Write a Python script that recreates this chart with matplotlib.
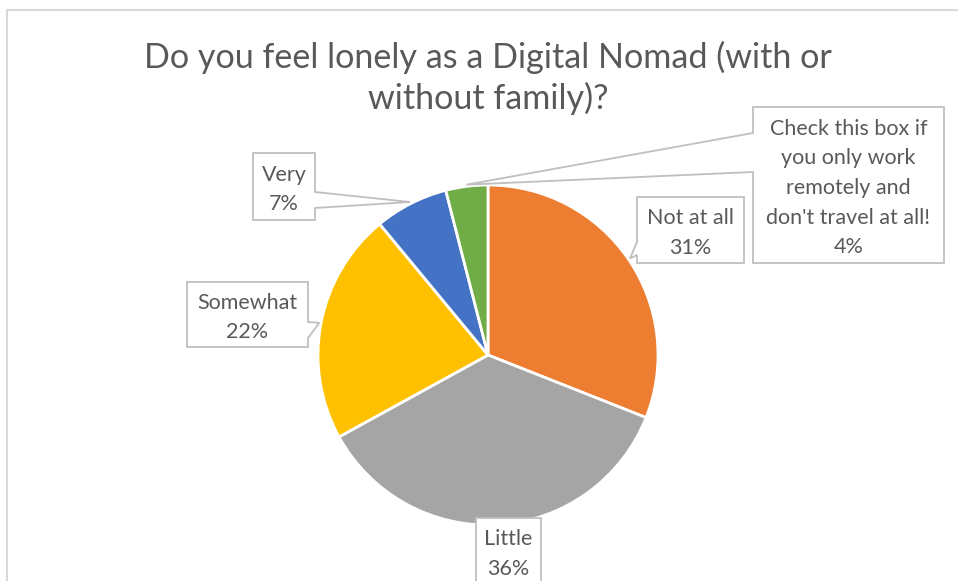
import matplotlib
matplotlib.use("Agg")
import matplotlib.pyplot as plt
from matplotlib.patches import Polygon
import numpy as np

categorias = ["Not at all", "Little", "Somewhat", "Very",
              "Check this box if\nyou only work\nremotely and\ndon't travel at all!"]
percentuais = [31, 36, 22, 7, 4]
cores = ["#ED7D31", "#A5A5A5", "#FFC000", "#4472C4", "#70AD47"]
titulo = "Do you feel lonely as a Digital Nomad (with or\nwithout family)?"

W, H = 958, 581
CINZA_TEXTO = "#595959"
CINZA_BORDA = "#BFBFBF"
TAM_ROTULO = 15.5
ESPACO_ROTULO = 1.6

plt.rcParams["font.family"] = ["Lato", "DejaVu Sans"]

fig = plt.figure(figsize=(W / 100, H / 100), dpi=100)
ax = fig.add_axes([0, 0, 1, 1])

# moldura do gráfico (cortada embaixo e à direita)
ax.plot([7, 7, W + 5], [-5, H - 9.5, H - 9.5], color="#D9D9D9", lw=1.5)

cx, cy, raio = 488, H - 355, 170
fatias, _ = ax.pie(percentuais, colors=cores, startangle=90, counterclock=False,
                   center=(cx, cy), radius=raio, frame=True,
                   wedgeprops=dict(edgecolor="white", linewidth=2))
ax.set_xlim(0, W)
ax.set_ylim(0, H)
ax.set_aspect("equal")
ax.axis("off")

ax.text(488, H - 78, titulo, ha="center", va="center", fontsize=24.6,
        color=CINZA_TEXTO, linespacing=1.3)


def ponta(fatia):
    meio = np.deg2rad((fatia.theta1 + fatia.theta2) / 2)
    return cx + raio * 1.01 * np.cos(meio), cy + raio * 1.01 * np.sin(meio)


def callout(caixa, lado, base, tip, texto, y_texto=None):
    x0, y0, x1, y1 = caixa
    y0, y1 = H - y0, H - y1
    if lado == "left":
        ya, yb = H - base[0], H - base[1]
        pts = [(x0, y0), (x1, y0), (x1, y1), (x0, y1), (x0, yb), tip, (x0, ya)]
    elif lado == "right":
        ya, yb = H - base[0], H - base[1]
        pts = [(x0, y0), (x1, y0), (x1, ya), tip, (x1, yb), (x1, y1), (x0, y1)]
    else:
        pts = [(x0, y0), (x1, y0), (x1, y1), (x0, y1)]
    ax.add_patch(Polygon(pts, closed=True, facecolor="white",
                         edgecolor=CINZA_BORDA, lw=1.3, zorder=5))
    yt = (y0 + y1) / 2 - 3 if y_texto is None else H - y_texto
    ax.text((x0 + x1) / 2, yt, texto, ha="center", va="center",
            fontsize=TAM_ROTULO, color=CINZA_TEXTO, linespacing=ESPACO_ROTULO, zorder=6)


rotulos = [f"{c}\n{p}%" for c, p in zip(categorias, percentuais)]

callout((637, 197, 744, 263), "left", (242, 255), ponta(fatias[0]), rotulos[0])
# "Little" fica colada na borda inferior do pie, caixa cortada embaixo
callout((476, 518, 541, 600), None, None, None, rotulos[1], y_texto=554)
callout((187, 282, 308, 347), "right", (322, 338), ponta(fatias[2]), rotulos[2])
callout((253, 153, 315, 220), "right", (192, 208), ponta(fatias[3]), rotulos[3])
callout((753, 107, 944, 263), "left", (133, 172), ponta(fatias[4]), rotulos[4])

fig.savefig("out.png", dpi=100)
